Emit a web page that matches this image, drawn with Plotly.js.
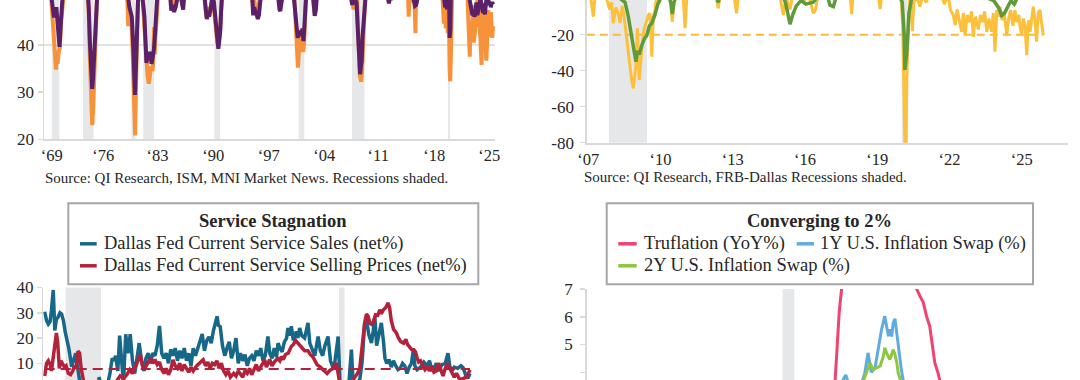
<!DOCTYPE html>
<html>
<head>
<meta charset="utf-8">
<script src="https://cdn.plot.ly/plotly-3.0.1.min.js"></script>
<style>
  html, body { margin: 0; padding: 0; background: #ffffff; overflow: hidden; }
  #wrap { position: relative; width: 1080px; height: 380px; overflow: hidden; }
  #chart { position: absolute; left: 0; top: -10px; width: 1080px; height: 390px; }
</style>
</head>
<body>
<div id="wrap"><div id="chart"></div></div>
<script>
// ---------------- DATA ----------------
// Recessions (decimal years)
const recStart = [1969.92, 1973.88, 1980.0, 1981.5, 1990.5, 2001.17, 2007.92, 2020.08];
const recEnd   = [1970.88, 1975.21, 1980.5, 1982.88, 1991.21, 2001.88, 2009.5, 2020.33];

// Top-left: ISM manufacturing PMI (purple) and MNI Chicago PMI (orange)
const ismYears = [1969.0,1969.3,1969.6,1969.8,1969.95,1970.1,1970.2,1970.3,1970.4,1970.5,1970.6,1970.75,1970.9,1971.05,1971.2,1971.4,1971.7,1972.0,1972.5,1973.0,1973.5,1974.0,1974.3,1974.5,1974.6,1974.75,1974.9,1975.04,1975.15,1975.3,1975.45,1975.6,1975.8,1976.2,1976.7,1977.2,1977.8,1978.3,1978.9,1979.3,1979.6,1979.75,1979.9,1980.05,1980.2,1980.32,1980.45,1980.55,1980.68,1980.8,1980.95,1981.15,1981.35,1981.5,1981.65,1981.8,1981.9,1982.0,1982.1,1982.25,1982.4,1982.55,1982.7,1982.85,1983.0,1983.1,1983.2,1983.4,1983.8,1984.2,1984.6,1984.9,1985.05,1985.2,1985.4,1985.6,1985.8,1986.0,1986.25,1986.4,1986.55,1986.7,1987.0,1987.6,1988.3,1988.9,1989.2,1989.4,1989.55,1989.7,1989.85,1990.0,1990.15,1990.3,1990.45,1990.6,1990.75,1990.88,1991.0,1991.1,1991.25,1991.35,1991.5,1991.8,1992.3,1993.0,1993.5,1994.0,1994.7,1995.1,1995.3,1995.42,1995.55,1995.7,1995.85,1996.0,1996.15,1996.3,1996.45,1997.0,1997.8,1998.3,1998.6,1998.75,1998.85,1998.95,1999.1,1999.6,2000.2,2000.5,2000.65,2000.8,2000.92,2001.05,2001.2,2001.35,2001.5,2001.65,2001.78,2001.9,2002.05,2002.2,2002.6,2002.8,2002.95,2003.1,2003.2,2003.35,2003.5,2004.0,2004.6,2005.2,2005.8,2006.5,2007.0,2007.5,2007.85,2007.95,2008.05,2008.2,2008.35,2008.5,2008.62,2008.75,2008.85,2008.95,2009.05,2009.15,2009.27,2009.4,2009.55,2010.0,2011.0,2011.5,2012.0,2012.3,2012.45,2012.6,2012.75,2012.9,2013.0,2014.0,2015.0,2015.6,2015.75,2015.9,2016.05,2016.15,2016.3,2017.0,2018.0,2018.7,2019.0,2019.4,2019.6,2019.72,2019.85,2019.95,2020.05,2020.15,2020.22,2020.28,2020.38,2020.45,2020.7,2021.2,2021.8,2022.3,2022.5,2022.58,2022.67,2022.75,2022.83,2022.92,2023.0,2023.08,2023.17,2023.25,2023.33,2023.42,2023.5,2023.58,2023.67,2023.75,2023.83,2023.92,2024.0,2024.08,2024.17,2024.25,2024.33,2024.42,2024.5,2024.58,2024.67,2024.75,2024.83,2024.92,2025.0,2025.08,2025.17,2025.25,2025.33,2025.42,2025.5,2025.58,2025.67,2025.77];
const ismValues = [57.5,56.5,54,51,48.5,47.5,45.8,47.5,46,48,45,42.5,39.6,44,49,53.5,54,58,62,69,68,62,55,51,48,40.5,33.5,30.7,33,38.5,44.5,50.5,55,59,55,58,57,60,58,54,49.5,48,47,46,41,35,29.4,34,42,50,55.5,53,51,48.5,46,40,36.2,37.5,36.8,38.5,38,36,37.5,39,42.5,46,52,56,66,61,56,50.5,47.3,48.5,47,48,50.5,51.5,50.2,48.5,47.5,50.8,53,58,58,55,51,47,45.5,46.8,46,47.5,49.5,50.5,49,46,43,40.5,39.2,40.5,43,47,51,53,54,55,50.5,56,59,54,50,46.3,48,47,46.5,45.5,46.4,49,51,54,55,52,49.8,47.5,47.2,48.5,51,55,56.5,51.5,49.5,46,43.9,41.5,43,42.5,42,43.5,40.8,44,49.5,53,51,50.5,51.5,47.5,46.2,47.5,50.5,61,60,55,58,54,50.5,53,50,48.5,49.5,48.8,49.5,49,44.5,38.5,34.3,33.8,35.5,36.5,42,46.5,52,58,60,53,54,51,49.6,48.8,50.3,49.5,52,56,54,51,49.5,48.3,48.5,49.6,51.5,56,59,60,55,52,49.5,48,48.5,47.6,50.8,50.1,49,41.5,43.5,52.5,56,64,60,56,53,52.8,50.9,50.2,49,48.4,47.4,47.7,46.3,47.1,46.9,46,46.4,47.6,49,46.7,46.7,47.4,49.1,47.8,50.3,49.2,48.7,48.5,46.8,47.2,47.2,46.5,48.4,49.3,50.9,50.3,49,48.7,48.5,49,48,48.7,49.1,48.6];

const chiYears = [1969.0,1969.5,1969.85,1970.0,1970.15,1970.3,1970.45,1970.55,1970.65,1970.8,1970.95,1971.1,1971.25,1971.5,1972.0,1973.0,1974.0,1974.4,1974.6,1974.75,1974.9,1975.04,1975.15,1975.3,1975.45,1975.6,1975.8,1976.5,1977.5,1978.5,1979.2,1979.45,1979.6,1979.7,1979.85,1980.0,1980.15,1980.3,1980.47,1980.57,1980.68,1980.8,1980.95,1981.2,1981.4,1981.6,1981.75,1981.9,1982.05,1982.2,1982.35,1982.5,1982.65,1982.75,1982.88,1982.95,1983.05,1983.15,1983.35,1984.0,1984.7,1985.0,1985.2,1985.5,1985.8,1986.3,1986.5,1986.7,1987.5,1988.5,1989.2,1989.45,1989.6,1989.8,1990.0,1990.2,1990.45,1990.6,1990.75,1990.9,1991.0,1991.15,1991.3,1991.45,1992.0,1993.0,1993.5,1994.5,1995.2,1995.4,1995.55,1995.75,1995.95,1996.15,1996.35,1997.0,1998.3,1998.7,1998.85,1999.0,1999.7,2000.4,2000.6,2000.75,2000.88,2001.0,2001.08,2001.2,2001.35,2001.5,2001.62,2001.75,2001.88,2002.0,2002.15,2002.6,2002.9,2003.05,2003.2,2003.35,2003.6,2004.3,2005.0,2006.0,2007.0,2007.5,2007.85,2007.95,2008.1,2008.25,2008.4,2008.55,2008.65,2008.78,2008.9,2009.0,2009.08,2009.2,2009.35,2009.5,2009.62,2010.0,2011.0,2012.0,2012.4,2012.55,2012.7,2013.0,2014.0,2014.8,2015.0,2015.1,2015.25,2015.5,2015.6,2015.7,2015.85,2015.96,2016.05,2016.5,2017.5,2018.5,2019.2,2019.38,2019.45,2019.55,2019.65,2019.72,2019.8,2019.9,2019.97,2020.05,2020.12,2020.2,2020.28,2020.35,2020.42,2020.5,2020.7,2021.3,2021.9,2022.4,2022.5,2022.58,2022.67,2022.75,2022.83,2022.92,2023.0,2023.08,2023.17,2023.25,2023.33,2023.42,2023.5,2023.58,2023.67,2023.75,2023.83,2023.92,2024.0,2024.08,2024.17,2024.25,2024.33,2024.42,2024.5,2024.58,2024.67,2024.75,2024.83,2024.92,2025.0,2025.08,2025.17,2025.25,2025.33,2025.42,2025.5,2025.58,2025.67,2025.77];
const chiValues = [58,55,50,46,41,36,34.8,37.5,36,38.5,39.5,45,50,55,60,70,63,54,47,37,27,23,26,34,42,50,57,60,58,62,56,51,44,48.5,47,45,39,31,20.8,30,40,49,58,54,51,45,40,35.5,33.5,31.8,34,35.5,34.5,36,43.8,38,42,50,60,66,56,50,48,48.8,51,50.5,48.5,52,60,58,52,46,46.5,48,47,50.5,48,45,42,40.2,40.5,41.8,45,51,56,56,52,61,52,48,49.5,47.5,47,49,52,57,54,49.5,48.3,50.5,57,60,51,46,41,37,35.2,38.5,41.5,42.5,40.5,38.5,41,46,52,54,50.5,48,46.8,50.5,55,65,62,60,52,56,52,49,47.5,49.5,48.8,50.5,45,37.5,33.5,33,32.2,34.5,39,47,51,60,68,62,52,49.5,51,55,60,56,52,46,52,50.5,49,51,48.5,42.5,55,54,60,64,56,50,49,44.5,50.4,47.5,43.5,46.5,48.5,42.5,49,46,35,32.3,36.5,50,58,66,60,56,52,48.5,45.5,44.5,37.5,45,44.5,43.5,43.8,48.5,40.5,41.8,43,48.5,44,44.2,55,47,46,44,41.5,37.8,35.8,47.4,45,46.2,46.6,41.6,40.2,36.7,39.5,45.5,47.4,44.6,42.5,41.8,47,43.9,41.5,44,36.3];

// Top-right: Dallas Fed survey series (gold and green)
const txYears = [2007.0,2007.1,2007.18,2007.27,2007.35,2007.5,2007.65,2007.8,2007.95,2008.03,2008.1,2008.2,2008.3,2008.38,2008.47,2008.55,2008.63,2008.72,2008.8,2008.86,2008.93,2009.0,2009.04,2009.1,2009.18,2009.24,2009.3,2009.35,2009.42,2009.49,2009.56,2009.62,2009.7,2009.76,2009.83,2009.9,2010.0,2010.15,2010.3,2010.45,2010.55,2010.65,2010.85,2011.0,2011.08,2011.17,2011.4,2011.7,2012.0,2012.3,2012.46,2012.55,2012.9,2013.1,2013.22,2013.32,2013.7,2014.2,2014.7,2015.0,2015.16,2015.27,2015.44,2015.55,2015.8,2016.0,2016.2,2016.41,2016.5,2016.6,2016.8,2017.2,2017.7,2017.9,2018.0,2018.08,2018.5,2018.9,2019.1,2019.18,2019.26,2019.6,2019.9,2020.05,2020.12,2020.18,2020.21,2020.26,2020.29,2020.35,2020.42,2020.48,2020.52,2020.58,2020.7,2020.84,2020.95,2021.1,2021.25,2021.5,2021.7,2021.85,2022.0,2022.1,2022.22,2022.3,2022.38,2022.47,2022.57,2022.64,2022.71,2022.8,2022.9,2022.98,2023.05,2023.14,2023.26,2023.35,2023.45,2023.52,2023.61,2023.7,2023.81,2023.88,2023.95,2024.03,2024.1,2024.16,2024.25,2024.33,2024.44,2024.52,2024.6,2024.7,2024.78,2024.86,2024.94,2025.0,2025.06,2025.13,2025.2,2025.27,2025.34,2025.41,2025.48,2025.54,2025.61,2025.68,2025.75,2025.82,2025.89,2025.96];
const txActivity = [6,2,-1,-10,3,8,4,1,-6,-2,-13.7,-5,-8,-13.5,-4,-10,-18,-28.5,-38,-45.2,-49.8,-42,-37.8,-16.4,-45.2,-35,-25,-19.2,-15,-11.8,-9,-8.1,-32.2,-10,-6.3,1,-2,4,1,3,-12.8,2,6,2,-16.4,4,9,5,10,6,-5.3,4,8,3,-8.1,5,10,13,11,3,-9.1,1,-6,2,1,-2,3,-8.1,-6,2,6,11,12,8,-8.6,8,12,6,3,-5.8,4,7,3,1,-15,-60,-82,-80,-45,-17.3,1,-4,-18.1,-2,1,-4.4,2,-2,5,8,3,-3,2,-6,-9.1,-14.7,-6,-12,-18.4,-8,-20.3,-9,-13,-7,-21.2,-10,-17,-9,-13,-7,-18.4,-11,-18.4,-8,-29.5,-6,-10,-4.4,-12,-7,-20.3,-11,-6.3,-15,-6.3,-13,-9,-16,-20,-11,-15,-31.4,-12,-18.4,-9,-4.4,-12,-23.9,-8,-6.3,-14,-20.3];
const txRevYears = [2007.0,2007.5,2007.9,2008.2,2008.45,2008.59,2008.72,2008.86,2009.0,2009.04,2009.1,2009.18,2009.28,2009.4,2009.49,2009.6,2009.7,2009.83,2009.95,2010.1,2010.4,2010.5,2010.55,2010.62,2010.8,2011.5,2012.3,2012.46,2012.6,2013.5,2014.5,2015.0,2015.25,2015.44,2015.55,2015.7,2015.9,2016.1,2016.4,2016.7,2017.0,2017.1,2017.24,2017.4,2018.0,2019.0,2019.9,2020.1,2020.18,2020.21,2020.29,2020.38,2020.5,2021.0,2022.0,2023.0,2023.6,2023.9,2024.1,2024.23,2024.35,2024.5,2024.62,2024.75,2024.9,2025.5,2025.96];
const txRevenue = [12,10,5,2,0,-2,-9.7,-22,-33,-35,-29,-31,-26,-22,-20.6,-15,-13.6,-9,-3,1,2,-3,-8.5,-2,4,8,4,-2,5,9,14,6,-2,-14.2,-9,-4,-1,-3,-2,3,1,-3.6,-4.4,3,10,8,4,-2,-20,-39.6,-30,-8,1,6,5,1,0.5,-1,-5,-9.4,-8,-4,-1,-3,1,0.5,1];
const txThreshold = -20;

// Bottom-left: Dallas Fed service sector (net %)
const svcYears = [2007.0,2007.08,2007.16,2007.24,2007.3,2007.38,2007.45,2007.52,2007.6,2007.68,2007.75,2007.83,2007.92,2008.0,2008.08,2008.2,2008.3,2008.38,2008.45,2008.55,2008.7,2008.85,2009.0,2009.15,2009.3,2009.42,2009.5,2009.6,2009.75,2009.9,2010.0,2010.08,2010.15,2010.25,2010.33,2010.4,2010.5,2010.6,2010.7,2010.8,2010.9,2011.0,2011.1,2011.2,2011.3,2011.4,2011.5,2011.6,2011.7,2011.8,2011.9,2012.0,2012.1,2012.2,2012.3,2012.4,2012.5,2012.6,2012.7,2012.8,2012.9,2013.0,2013.1,2013.2,2013.3,2013.4,2013.5,2013.6,2013.7,2013.85,2014.0,2014.1,2014.2,2014.3,2014.4,2014.5,2014.6,2014.66,2014.72,2014.8,2014.9,2015.0,2015.1,2015.2,2015.3,2015.4,2015.5,2015.6,2015.7,2015.8,2015.9,2016.0,2016.1,2016.2,2016.3,2016.4,2016.5,2016.6,2016.7,2016.8,2016.92,2017.0,2017.1,2017.2,2017.3,2017.37,2017.45,2017.55,2017.65,2017.75,2017.81,2017.9,2017.96,2018.05,2018.18,2018.25,2018.33,2018.42,2018.55,2018.7,2018.78,2018.9,2019.0,2019.15,2019.25,2019.35,2019.45,2019.59,2019.7,2019.85,2019.95,2020.04,2020.12,2020.2,2020.3,2020.4,2020.5,2020.63,2020.7,2020.85,2021.0,2021.1,2021.22,2021.3,2021.4,2021.52,2021.6,2021.67,2021.75,2021.85,2021.96,2022.05,2022.12,2022.2,2022.3,2022.4,2022.5,2022.6,2022.7,2022.8,2022.9,2023.0,2023.1,2023.2,2023.3,2023.38,2023.45,2023.55,2023.7,2023.85,2024.0,2024.1,2024.2,2024.3,2024.4,2024.5,2024.65,2024.8,2024.92,2025.0,2025.1,2025.2,2025.35,2025.5,2025.59,2025.7,2025.8,2025.9];
const svcSales = [30.4,27,25.5,26.5,31,39,23,27.5,28.4,30,29.5,27,22,19,15.5,8.7,12,14,9,3,-4,-15,-22,-18,-8,4.5,1,-3,0,6,12,11,13,7,21,10,2,21.5,14,21.5,11,6,13,18,11,7,12,14,10,14,13,17,24.8,14,12,14,10,15.5,13,16,11,15,12,16,11,14,9,16,13,17,21.6,15,19,20.5,18,23,27,28.6,25,24.5,17,13,16,18.5,12,15,20,10,14,11,13.5,9,12,13,11,15,13,16,11,13,20.6,14,12,16,12.5,18,16,14.5,18.5,20,24,21,24.7,19,22.6,20,24,21,20,26,18,15.4,13,20.6,15,13,17,20.6,11,7.5,14,20.6,3,-30,-45,-20,0,15.4,3,2,3.5,10,26,27.3,21.5,18,23,28.6,17,22,26,19,12,10,11.5,8.5,11,9,7.5,8,10,9,6,8.5,10,15.4,9,7.5,8.5,10.5,9,11,7.5,8,10,7,9.5,10,14,9,7,8.5,8,9,8.3,5.5,4,6];
const priceYears = [2007.0,2007.08,2007.16,2007.24,2007.3,2007.38,2007.45,2007.52,2007.58,2007.65,2007.72,2007.8,2007.88,2007.95,2008.05,2008.15,2008.25,2008.32,2008.4,2008.48,2008.55,2008.62,2008.7,2008.85,2009.0,2009.3,2009.6,2009.8,2010.0,2010.2,2010.35,2010.5,2010.65,2010.78,2010.9,2011.05,2011.15,2011.25,2011.35,2011.45,2011.6,2011.7,2011.8,2011.9,2012.0,2012.1,2012.2,2012.3,2012.4,2012.5,2012.6,2012.7,2012.8,2012.9,2013.0,2013.1,2013.2,2013.3,2013.4,2013.5,2013.6,2013.75,2013.9,2014.04,2014.15,2014.25,2014.35,2014.45,2014.55,2014.65,2014.75,2014.85,2014.95,2015.05,2015.15,2015.25,2015.4,2015.5,2015.6,2015.7,2015.8,2015.9,2016.0,2016.1,2016.2,2016.3,2016.4,2016.5,2016.62,2016.78,2016.85,2016.92,2017.0,2017.1,2017.2,2017.35,2017.45,2017.52,2017.6,2017.7,2017.82,2017.96,2018.05,2018.15,2018.26,2018.35,2018.45,2018.55,2018.7,2018.8,2018.92,2019.0,2019.1,2019.25,2019.35,2019.44,2019.55,2019.65,2019.8,2019.96,2020.03,2020.12,2020.25,2020.4,2020.55,2020.7,2020.8,2020.9,2021.0,2021.07,2021.15,2021.22,2021.3,2021.37,2021.45,2021.52,2021.59,2021.7,2021.8,2021.89,2021.96,2022.05,2022.15,2022.26,2022.33,2022.4,2022.5,2022.63,2022.72,2022.82,2022.95,2023.05,2023.12,2023.22,2023.3,2023.4,2023.48,2023.55,2023.62,2023.7,2023.8,2023.9,2024.0,2024.1,2024.2,2024.3,2024.41,2024.5,2024.6,2024.7,2024.8,2024.9,2025.0,2025.1,2025.2,2025.3,2025.45,2025.6,2025.74,2025.82,2025.9];
const svcPrices = [5,10,11,9.5,7,12,16,22,18,8,11,10,8.5,9,6,5.5,7,9,8,14.8,14,8,3,-5,-10,-8,-4,0,2,3,5,4,5.5,7.5,6,9,11.4,13.4,9,8,10.5,12,10,11.5,9.5,10.5,7.5,6,8,5.5,7.5,11.4,9,8,10,7,9.5,8,6.5,8.5,7,9,10.5,11.4,9,10.5,8,10,9.5,11,8,10,7,5.5,7,4.5,6,5,7,6,4.5,7,6,8,5.5,7.5,9.5,7,9,11.4,8.5,10,11.5,9,10.5,12,11,12.7,11.5,13.5,14,16.7,17.5,19,17.9,16.5,15.5,15,15,13.5,12.5,11,9.5,8.5,7.5,7,6,7,8,10.1,4,0,-5,-3,2,3.5,4.5,6,8,14.7,22,26,29.5,28.6,26,25.5,26,29.2,29,31.2,29.6,31.2,32,33.9,31.8,27,23.5,22,20,18.6,18,19.5,17.5,16.5,15.5,15.4,14.5,12,10.5,11,9.5,7.5,8.5,7,9,6.5,7,10.1,7.5,5,8,10,8,6,4.5,6,3.5,4,4.5,6,7.5];
const svcAverage = 7.75;

// Bottom-right: Truflation and inflation swaps (%)
const truYears = [2015.9,2016.5,2017.5,2018.5,2019.5,2020.0,2020.3,2020.6,2020.9,2021.1,2021.21,2021.25,2021.3,2021.35,2021.45,2021.7,2022.0,2022.3,2022.6,2022.85,2022.97,2023.04,2023.11,2023.18,2023.25,2023.29,2023.33,2023.36,2023.43,2023.47,2023.6,2023.9,2024.3,2024.7,2025.0,2025.4,2025.75];
const truValues = [1.5,1.8,2.3,2.6,2.0,2.0,0.5,1.2,1.8,2.8,3.7,4.8,6.2,7.0,8.5,9.8,10.5,11.5,10.2,8.0,7.0,6.74,6.52,6.02,5.66,5.17,4.69,4.34,3.97,3.73,2.8,2.2,2.0,1.6,2.2,1.8,2.3];
const swap1Years = [2015.9,2016.5,2017.5,2018.5,2019.5,2020.0,2020.25,2020.6,2020.9,2021.2,2021.39,2021.44,2021.5,2021.7,2021.8,2021.85,2021.92,2021.99,2022.07,2022.14,2022.21,2022.28,2022.32,2022.36,2022.39,2022.43,2022.46,2022.5,2022.54,2022.57,2022.61,2022.64,2022.68,2022.8,2023.0,2023.5,2024.0,2024.5,2025.0,2025.3,2025.75];
const swap1Values = [1.2,1.3,1.8,2.2,1.8,1.8,0.2,1.2,1.8,3.2,3.8,3.9,3.6,3.4,3.7,3.98,4.7,4.0,4.15,4.81,5.53,6.02,5.6,5.3,5.55,5.29,5.75,5.93,5.4,4.97,4.5,4.07,3.7,3.0,2.6,2.4,2.3,2.2,2.5,3.3,2.6];
const swap2Years = [2015.9,2016.5,2017.5,2018.5,2019.5,2020.0,2020.25,2020.6,2020.9,2021.2,2021.5,2021.8,2021.89,2021.96,2022.03,2022.1,2022.18,2022.25,2022.28,2022.32,2022.39,2022.43,2022.46,2022.5,2022.54,2022.57,2022.61,2022.7,2023.0,2023.5,2024.0,2024.5,2025.0,2025.75];
const swap2Values = [1.4,1.5,1.9,2.2,1.8,1.8,0.8,1.4,2.0,2.9,3.3,3.6,3.98,4.34,4.1,4.15,4.22,4.58,4.88,4.7,4.46,4.64,4.82,4.64,4.34,3.98,3.74,3.3,2.7,2.5,2.4,2.3,2.6,2.5];

// Text
const tlTickText = ['\u201869','\u201876','\u201883','\u201890','\u201897','\u201804','\u201811','\u201818','\u201825'];
const trTickText = ['\u201807','\u201810','\u201813','\u201816','\u201819','\u201822','\u201825'];
const trYTickText = ['-80','-60','-40','-20','0'];
const tlSource = 'Source: QI Research, ISM, MNI Market News. Recessions shaded.';
const trSource = 'Source: QI Research, FRB-Dallas Recessions shaded.';
const blTitle = 'Service Stagnation';
const blNames = ['Dallas Fed Current Service Sales (net%)', 'Dallas Fed Current Service Selling Prices (net%)'];
const brTitle = 'Converging to 2%';
const brNames = ['Truflation (YoY%)', '1Y U.S. Inflation Swap (%)', '2Y U.S. Inflation Swap (%)'];

// ---------------- LAYOUT HELPERS ----------------
const FIG_H = 390, TOP_OFF = 10, W = 1080;
const px = p => p / W;
const py = p => 1 - (p + TOP_OFF) / FIG_H;

const C = {
  purple: '#5b2068', orange: '#f7923a', gold: '#fdc03c', green: '#5f9b3b',
  blue: '#176888', red: '#b3213a', pink: '#ef4470', lblue: '#60aae2', lgreen: '#8dc63f',
  shade: '#e6e7e8', axis: '#d9d9d9', text: '#262626', box: '#a6a6a6'
};
const FONT = 'Liberation Serif, Times New Roman, serif';

const xr = {
  x:  [1968.937, 2026.025],
  x2: [2007.0, 2026.984],
  x3: [2006.938, 2027.01],
  x4: [2015.856, 2026.23]
};

const traces = [
  {x: chiYears, y: chiValues, xaxis: 'x', yaxis: 'y', mode: 'lines', name: 'MNI Chicago PMI', line: {color: C.orange, width: 4}},
  {x: ismYears, y: ismValues, xaxis: 'x', yaxis: 'y', mode: 'lines', name: 'ISM Manufacturing PMI', line: {color: C.purple, width: 4}},

  {x: [txYears[0], txYears[txYears.length - 1]], y: [txThreshold, txThreshold], xaxis: 'x2', yaxis: 'y2', mode: 'lines', name: 'Threshold', line: {color: '#fbb938', width: 2, dash: '8px,5px'}},
  {x: txYears, y: txActivity, xaxis: 'x2', yaxis: 'y2', mode: 'lines', name: 'Activity', line: {color: C.gold, width: 3}},
  {x: txRevYears, y: txRevenue, xaxis: 'x2', yaxis: 'y2', mode: 'lines', name: 'Revenue', line: {color: C.green, width: 3.5}},

  {x: svcYears, y: svcSales, xaxis: 'x3', yaxis: 'y3', mode: 'lines', name: blNames[0], line: {color: C.blue, width: 3.5}},
  {x: [svcYears[0], svcYears[svcYears.length - 1]], y: [svcAverage, svcAverage], xaxis: 'x3', yaxis: 'y3', mode: 'lines', name: 'Average', line: {color: C.red, width: 2, dash: '10px,6px'}},
  {x: priceYears, y: svcPrices, xaxis: 'x3', yaxis: 'y3', mode: 'lines', name: blNames[1], line: {color: C.red, width: 3.5}},

  {x: truYears, y: truValues, xaxis: 'x4', yaxis: 'y4', mode: 'lines', name: brNames[0], line: {color: C.pink, width: 3}},
  {x: swap1Years, y: swap1Values, xaxis: 'x4', yaxis: 'y4', mode: 'lines', name: brNames[1], line: {color: C.lblue, width: 3}},
  {x: swap2Years, y: swap2Values, xaxis: 'x4', yaxis: 'y4', mode: 'lines', name: brNames[2], line: {color: C.lgreen, width: 3}}
];

// Recession shading per subplot
const shapes = [];
[['x', 'y'], ['x2', 'y2'], ['x3', 'y3'], ['x4', 'y4']].forEach(([xa, ya]) => {
  const [lo, hi] = xr[xa];
  recStart.forEach((s, i) => {
    const e = recEnd[i];
    if (e < lo || s > hi) return;
    shapes.push({type: 'rect', xref: xa, yref: ya + ' domain', x0: Math.max(s, lo), x1: Math.min(e, hi), y0: 0, y1: 1,
      fillcolor: C.shade, line: {width: 0}, layer: 'below'});
  });
});
// reference line at 40 in the PMI chart
shapes.push({type: 'line', xref: 'x domain', yref: 'y', x0: 0, x1: 1, y0: 40, y1: 40, line: {color: C.axis, width: 1.5}, layer: 'below'});

// Legend boxes (drawn as framed boxes)
const boxTop = 203.3, boxBot = 284.3;
shapes.push({type: 'rect', xref: 'paper', yref: 'paper', x0: px(68.3), x1: px(478.3), y0: py(boxBot), y1: py(boxTop), line: {color: C.box, width: 2}, fillcolor: '#ffffff', layer: 'above'});
shapes.push({type: 'rect', xref: 'paper', yref: 'paper', x0: px(606.7), x1: px(1033), y0: py(boxBot), y1: py(boxTop), line: {color: C.box, width: 2}, fillcolor: '#ffffff', layer: 'above'});

const row1 = 243.8, row2 = 265.8, titleY = 220.5;
const legendSamples = [
  {x0: 80, x1: 96.7, y: row1, color: C.blue},
  {x0: 80, x1: 96.7, y: row2, color: C.red},
  {x0: 618.3, x1: 636.7, y: row1, color: C.pink},
  {x0: 796.7, x1: 814, y: row1, color: C.lblue},
  {x0: 618.3, x1: 636.7, y: row2, color: C.lgreen}
];
legendSamples.forEach(s => shapes.push({type: 'line', xref: 'paper', yref: 'paper', x0: px(s.x0), x1: px(s.x1), y0: py(s.y), y1: py(s.y), line: {color: s.color, width: 3.5}, layer: 'above'}));

const ann = (text, x, y, size, anchor, bold) => ({
  text: bold ? '<b>' + text + '</b>' : text, xref: 'paper', yref: 'paper', x: px(x), y: py(y),
  xanchor: anchor, yanchor: 'middle', showarrow: false, font: {family: FONT, size: size, color: C.text}
});
const annotations = [
  ann(tlSource, 42.7, 177.5, 15, 'left'),
  ann(trSource, 581.7, 177, 15, 'left'),
  ann(blTitle, 273.3, titleY, 18.5, 'center', true),
  ann(blNames[0], 101.7, row1, 18.5, 'left'),
  ann(blNames[1], 101.7, row2, 18.5, 'left'),
  ann(brTitle, 819.9, titleY, 18.5, 'center', true),
  ann(brNames[0], 641.7, row1, 18.5, 'left'),
  ann(brNames[1], 818.3, row1, 18.5, 'left'),
  ann(brNames[2], 641.7, row2, 18.5, 'left')
];

const yBase = {
  showline: true, linecolor: C.axis, linewidth: 1.5, ticks: 'outside', ticklen: 5, tickwidth: 1.5, tickcolor: C.axis,
  showgrid: false, zeroline: false, tickmode: 'array', tickfont: {family: FONT, size: 17, color: C.text}, fixedrange: true
};
const xBase = {
  showline: true, linecolor: C.axis, linewidth: 2, ticks: '', showgrid: false, zeroline: false,
  tickmode: 'array', tickfont: {family: FONT, size: 16.5, color: C.text}, fixedrange: true
};

const layout = {
  width: W, height: FIG_H, margin: {l: 0, r: 0, t: 0, b: 0, pad: 0},
  paper_bgcolor: '#ffffff', plot_bgcolor: 'rgba(0,0,0,0)', showlegend: false,
  font: {family: FONT, size: 17, color: C.text},
  xaxis: Object.assign({}, xBase, {domain: [px(44), px(495)], range: xr.x, anchor: 'y',
    tickvals: [1969.91, 1976.44, 1983.30, 1990.37, 1997.38, 2004.41, 2011.25, 2018.33, 2025.29], ticktext: tlTickText, ticklabelstandoff: 0}),
  yaxis: Object.assign({}, yBase, {domain: [py(139.3), 1], range: [20, 51.66], anchor: 'x', tickvals: [20, 30, 40, 50]}),
  xaxis2: Object.assign({}, xBase, {domain: [px(586.8), px(1068)], range: xr.x2, anchor: 'y2',
    tickvals: [2007.06, 2010.06, 2013.06, 2016.06, 2019.06, 2022.06, 2025.06], ticktext: trTickText, ticklabelstandoff: 0}),
  yaxis2: Object.assign({}, yBase, {domain: [py(142.7), 1], range: [-80, 4.83], anchor: 'x2', tickvals: [-80, -60, -40, -20, 0], ticktext: trYTickText, ticklabelstandoff: 3}),
  xaxis3: {domain: [px(43.3), px(495)], range: xr.x3, anchor: 'y3', visible: false, fixedrange: true},
  yaxis3: Object.assign({}, yBase, {domain: [0, py(287.5)], range: [3.40, 40], anchor: 'x3', tickvals: [0, 10, 20, 30, 40]}),
  xaxis4: {domain: [px(586.7), px(1068)], range: xr.x4, anchor: 'y4', visible: false, fixedrange: true},
  yaxis4: Object.assign({}, yBase, {domain: [0, py(289)], range: [3.723, 7], anchor: 'x4', tickvals: [0, 1, 2, 3, 4, 5, 6, 7], ticklabelstandoff: 4}),
  shapes: shapes,
  annotations: annotations
};

Plotly.newPlot('chart', traces, layout, {displayModeBar: false, staticPlot: true, responsive: false});
</script>
</body>
</html>
